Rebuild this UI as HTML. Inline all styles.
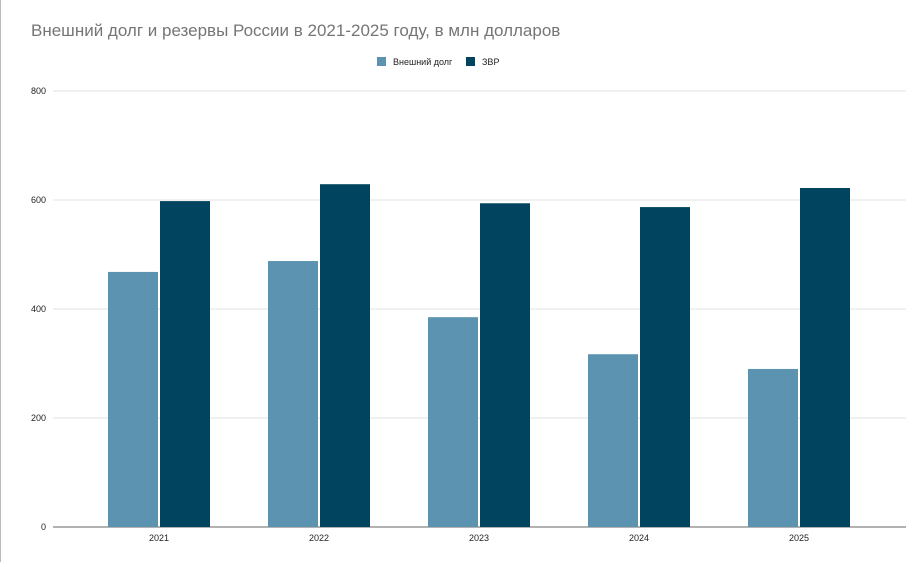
<!DOCTYPE html>
<html><head><meta charset="utf-8"><style>
body{margin:0;background:#fff;width:923px;height:562px;overflow:hidden;font-family:"Liberation Sans",sans-serif}
#wrap{position:absolute;left:0;top:0;width:923px;height:562px;border-left:1px solid #bbb;box-sizing:border-box}
</style></head><body>
<div id="wrap">
<svg id="chart" width="923" height="562">
<text x="30" y="36" font-size="17" fill="#757575">Внешний долг и резервы России в 2021-2025 году, в млн долларов</text>
<g>
<g><rect x="376" y="57" width="9" height="9" fill="#5b93b0"/><text x="392" y="65" font-size="9" fill="#222">Внешний долг</text></g>
<g><rect x="465" y="57" width="9" height="9" fill="#01445f"/><text x="481" y="65" font-size="9" fill="#222">ЗВР</text></g>
</g>
<g id="grid"></g><g id="bars"></g><g id="labels"></g>
</svg></div>
<script>
const categories=["2021","2022","2023","2024","2025"];
const debtValues=[468,488,385,317,290];
const reserveValues=[598,629,594,587,622];
const yTicks=[0,200,400,600,800];
const NS="http://www.w3.org/2000/svg";
const y0=527,yTop=91,yMax=800,left=52,right=905;
const y=v=>y0-(v/yMax)*(y0-yTop);
const xc=i=>158+i*160;
const svg=document.getElementById('chart');
const grid=document.getElementById('grid'),bars=document.getElementById('bars'),labels=document.getElementById('labels');
function mk(t,a,p){const e=document.createElementNS(NS,t);for(const k in a)e.setAttribute(k,a[k]);p.appendChild(e);return e;}
yTicks.forEach(t=>{
 const l=mk('line',{x1:left,x2:right,y1:y(t),y2:y(t),stroke:t===0?'#999':'#e0e0e0','stroke-width':t===0?1.5:1},grid);
 
 
 const tx=mk('text',{x:45,y:y(t)+3,'font-size':9,fill:'#222','text-anchor':'end'},labels);
 tx.textContent=t;
 
 
});
categories.forEach((c,i)=>{
 const b1=mk('rect',{x:xc(i)-51,y:y(debtValues[i]),width:50,height:y0-y(debtValues[i]),fill:'#5b93b0'},bars);
 
 
 const b2=mk('rect',{x:xc(i)+1,y:y(reserveValues[i]),width:50,height:y0-y(reserveValues[i]),fill:'#01445f'},bars);
 
 
 const tx=mk('text',{x:xc(i),y:541,'font-size':9,fill:'#222','text-anchor':'middle'},labels);
 tx.textContent=c;
 
 
});
svg.appendChild(grid.cloneNode(false));
</script>
</body></html>
